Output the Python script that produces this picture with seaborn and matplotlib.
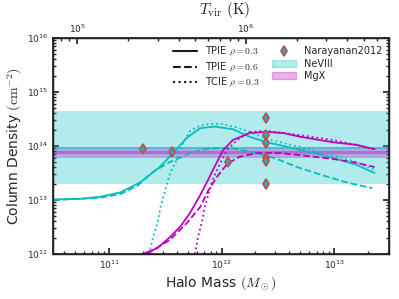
import numpy as np
import pandas as pd
import seaborn as sns
import matplotlib.pyplot as plt
from matplotlib.lines import Line2D
from matplotlib.patches import Patch

# values (log10 halo mass, log10 column density)
cyan_solid_m = [10.50, 10.74, 10.92, 11.10, 11.28, 11.45, 11.57, 11.69, 11.81, 11.94, 12.10, 12.25, 12.40, 12.70, 12.99, 13.20, 13.36]
cyan_solid_n = [13.01, 13.02, 13.06, 13.14, 13.33, 13.61, 13.87, 14.15, 14.33, 14.36, 14.31, 14.17, 14.07, 13.93, 13.78, 13.65, 13.50]
cyan_dash_m = [10.50, 10.92, 11.10, 11.25, 11.39, 11.54, 11.75, 11.90, 12.08, 12.32, 12.49, 12.70, 12.94, 13.14, 13.34]
cyan_dash_n = [13.00, 13.04, 13.11, 13.26, 13.52, 13.70, 13.89, 13.96, 13.96, 13.87, 13.76, 13.59, 13.43, 13.31, 13.22]
cyan_dot_m = [11.356, 11.39, 11.43, 11.46, 11.50, 11.54, 11.60, 11.66, 11.72, 11.81, 11.90, 12.00, 12.12, 12.25, 12.40, 12.70, 12.99, 13.20, 13.36]
cyan_dot_n = [12.00, 12.30, 12.57, 12.89, 13.19, 13.48, 13.74, 14.06, 14.28, 14.38, 14.41, 14.41, 14.35, 14.26, 14.13, 13.98, 13.83, 13.70, 13.56]
mag_solid_m = [11.30, 11.43, 11.54, 11.63, 11.72, 11.81, 11.88, 11.92, 12.01, 12.10, 12.25, 12.40, 12.55, 12.70, 12.99, 13.20, 13.36]
mag_solid_n = [12.00, 12.11, 12.31, 12.50, 12.76, 13.09, 13.37, 13.54, 13.91, 14.11, 14.24, 14.26, 14.24, 14.17, 14.07, 14.02, 13.94]
mag_dash_m = [11.34, 11.39, 11.54, 11.69, 11.81, 11.88, 11.96, 12.05, 12.16, 12.32, 12.52, 12.70, 12.99, 13.20, 13.36]
mag_dash_n = [12.00, 12.07, 12.26, 12.57, 12.87, 13.17, 13.43, 13.67, 13.80, 13.87, 13.87, 13.83, 13.76, 13.69, 13.61]
mag_dot_m = [11.764, 11.79, 11.83, 11.85, 11.89, 11.92, 11.99, 12.05, 12.14, 12.25, 12.40, 12.70, 12.99, 13.20, 13.36]
mag_dot_n = [12.00, 12.31, 12.63, 12.87, 13.15, 13.37, 13.69, 13.93, 14.11, 14.26, 14.28, 14.20, 14.11, 14.02, 13.94]

obs_mass = [2.0e11, 3.6e11, 1.14e12, 2.5e12, 2.5e12, 2.5e12, 2.5e12, 2.5e12, 2.5e12]
obs_col = [8.9e13, 7.6e13, 5.0e13, 3.3e14, 1.6e14, 1.15e14, 6.1e13, 5.2e13, 2.0e13]

neviii_band = [2.0e13, 4.5e14]
mgx_band = [6.0e13, 9.6e13]

C = '#00bfbf'
M = '#bf00bf'

sns.set_theme(style='ticks', rc={'xtick.direction': 'in', 'ytick.direction': 'in',
                                  'mathtext.fontset': 'cm'})
plt.rcParams['font.family'] = ['DejaVu Sans']

fig = plt.figure(figsize=(3.99, 2.99), dpi=100)
ax = fig.add_axes([0.133, 0.1505, 0.842, 0.7225])

ax.axhspan(neviii_band[0], neviii_band[1], color=C, alpha=0.3, lw=0)
ax.axhspan(mgx_band[0], mgx_band[1], color=M, alpha=0.3, lw=0)
ax.axhspan(8.8e13, mgx_band[1], color=C, alpha=0.45, lw=0)
ax.axhspan(7.2e13, 8.2e13, color=M, alpha=0.35, lw=0)

curves = [(cyan_solid_m, cyan_solid_n, C, '-'), (cyan_dash_m, cyan_dash_n, C, '--'),
          (cyan_dot_m, cyan_dot_n, C, ':'), (mag_solid_m, mag_solid_n, M, '-'),
          (mag_dash_m, mag_dash_n, M, '--'), (mag_dot_m, mag_dot_n, M, ':')]
for lm, ln, col, ls in curves:
    df = pd.DataFrame({'mass': 10**np.array(lm), 'col': 10**np.array(ln)})
    sns.lineplot(data=df, x='mass', y='col', color=col, linestyle=ls, lw=1.3, ax=ax)

ax.plot(obs_mass, obs_col, 'd', mfc=C, mec='r', mew=1.3, ms=5.5, ls='none')

ax.set_xscale('log')
ax.set_yscale('log')
ax.set_xlim(3.18e10, 3.08e13)
ax.set_ylim(1e12, 1e16)
ax.tick_params(which='both', right=True, top=False, labelsize=6.5)
ax.tick_params(which='major', length=4)
ax.tick_params(which='minor', length=2)
ax.set_xlabel(r'Halo Mass $(M_\odot)$', fontsize=10, labelpad=2)
ax.set_ylabel(r'Column Density $(\mathrm{cm}^{-2})$', fontsize=10, labelpad=2)
for s in ax.spines.values():
    s.set_linewidth(1.0)
    s.set_color('black')

# virial temperature along the top
def tvir(m):
    return 10**(2.0/3.0*np.log10(m) - 2.144)

ax2 = ax.twiny()
ax2.set_xscale('log')
ax2.set_xlim(tvir(3.18e10), tvir(3.08e13))
ax2.tick_params(which='both', direction='in', labelsize=6.5, pad=2)
ax2.tick_params(which='major', length=4)
ax2.tick_params(which='minor', length=2)
ax2.set_xlabel(r'$T_{\rm vir}\ ({\rm K})$', fontsize=11, labelpad=-1)
ax2.xaxis.set_label_coords(0.51, 1.11)

handles = [Line2D([], [], color='k', ls='-', lw=1.5), Line2D([], [], color='k', ls='--', lw=1.5),
           Line2D([], [], color='k', ls=':', lw=1.5),
           Line2D([], [], marker='d', mfc=C, mec='r', mew=1.3, ms=5.5, ls='none'),
           Patch(facecolor=C, alpha=0.3, edgecolor=C), Patch(facecolor=M, alpha=0.3, edgecolor=M)]
labels = [r'TPIE $\rho=0.3$', r'TPIE $\rho=0.6$', r'TCIE $\rho=0.3$', 'Narayanan2012', 'NeVIII', 'MgX']
ax.legend(handles, labels, ncol=2, loc='upper right', frameon=False, fontsize=7,
          handlelength=2.5, columnspacing=1.2, borderaxespad=0.3, labelspacing=0.25)

plt.savefig('out.png', dpi=100)
